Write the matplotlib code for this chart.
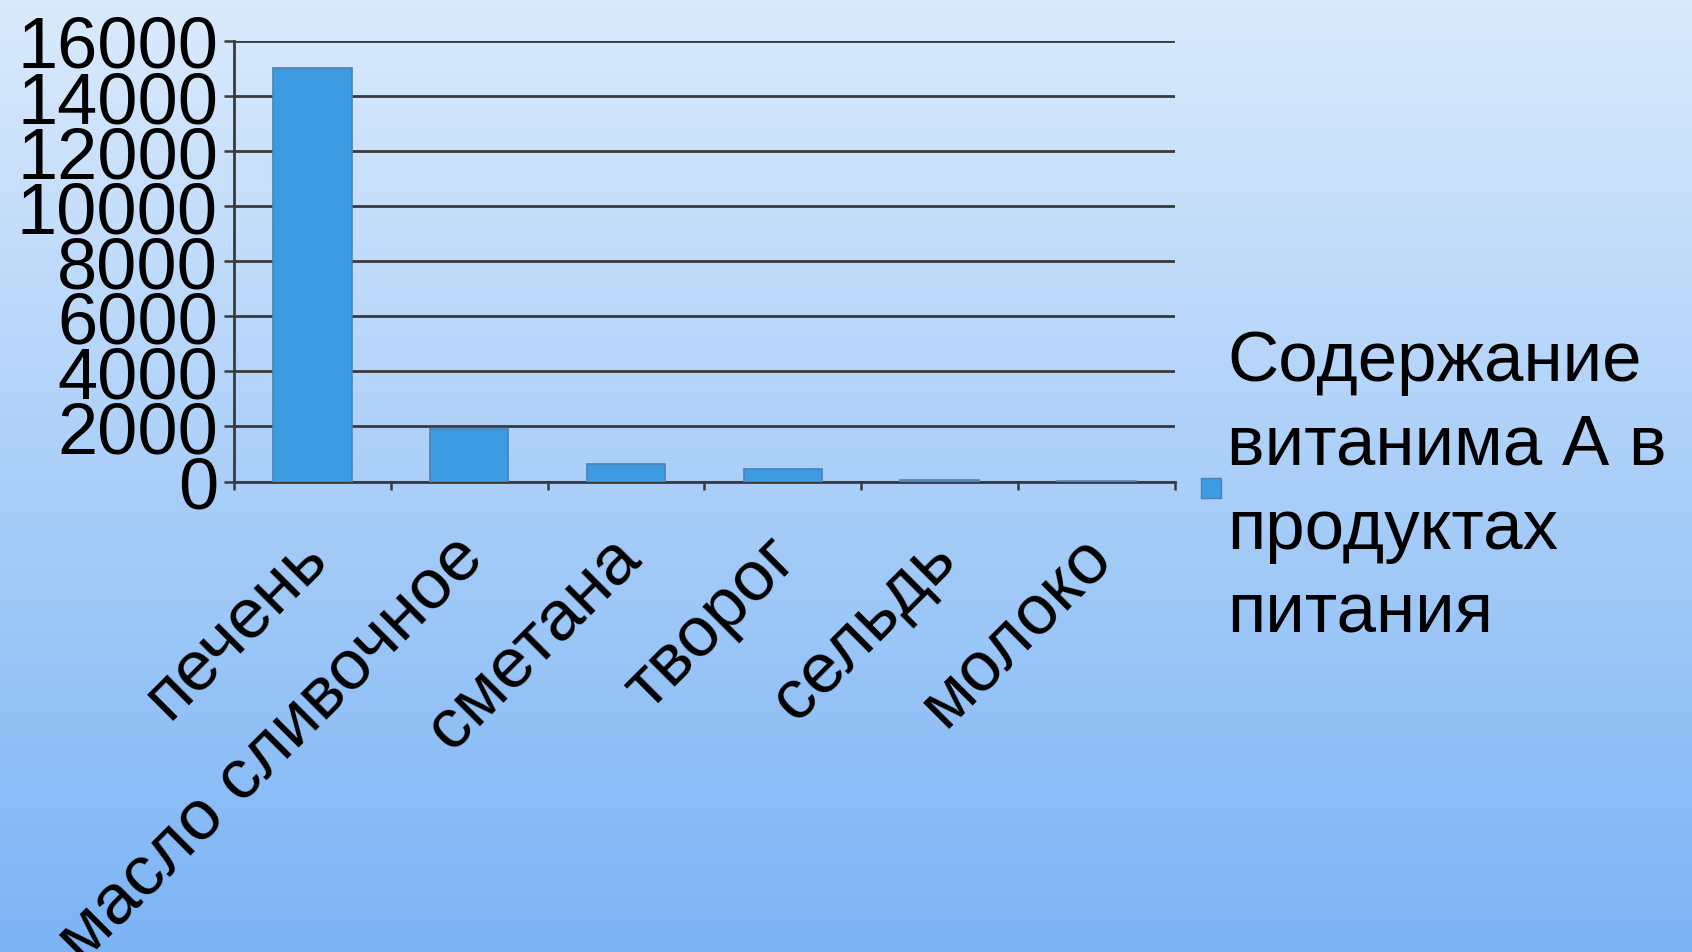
import numpy as np
import matplotlib
matplotlib.use('Agg')
import matplotlib.pyplot as plt
from matplotlib.lines import Line2D
from matplotlib.transforms import ScaledTranslation

# data
products = ["печень", "масло сливочное", "сметана", "творог", "сельдь", "молоко"]
vitamin_a = [15000, 1900, 650, 450, 60, 30]
y_ticks = [0, 2000, 4000, 6000, 8000, 10000, 12000, 14000, 16000]
series_name = "Содержание\nвитанима А в\nпродуктах\nпитания"

plt.rcParams['font.family'] = ['Liberation Sans', 'DejaVu Sans']

fig = plt.figure(figsize=(16.92, 9.53), dpi=100)

# background gradient, light blue on top -> deeper blue below
bg = fig.add_axes([0, 0, 1, 1], zorder=-10)
top = np.array([218, 234, 252]) / 255
bottom = np.array([124, 180, 245]) / 255
t = np.linspace(0, 1, 256)[:, None]
grad = top * (1 - t) + bottom * t
bg.imshow(grad[:, None, :], aspect='auto', extent=[0, 1, 0, 1])
bg.axis('off')

ax = fig.add_axes([0.1383, 0.4937, 0.5561, 0.4623])
ax.set_facecolor('none')

x = np.arange(len(products))
ax.bar(x, vitamin_a, width=0.5, color='#3d9be2', edgecolor='#4c82b4',
       linewidth=1.2, zorder=3)

ax.set_xlim(-0.5, len(products) - 0.5)
ax.set_ylim(0, 16000)
ax.set_yticks(y_ticks)
ax.set_yticklabels([str(v) for v in y_ticks], fontsize=52)
ax.yaxis.grid(True, color='#3a3a3a', linewidth=2, zorder=1)
ax.set_axisbelow(True)

ax.set_xticks(x)
ax.set_xticklabels(products, fontsize=51, rotation=45,
                   rotation_mode='anchor', ha='right', va='center')
ax.set_xticks(np.arange(len(products) + 1) - 0.5, minor=True)
ax.tick_params(axis='x', which='major', length=0, pad=47)
ax.tick_params(axis='x', which='minor', length=6, width=1.8, color='#3a3a3a',
               direction='out')
ax.tick_params(axis='y', length=7, width=1.8, color='#3a3a3a', pad=4.5)

# nudge the slanted labels a little to the right
shift = ScaledTranslation(0.05, 0, fig.dpi_scale_trans)
for lbl in ax.get_xticklabels():
    lbl.set_transform(lbl.get_transform() + shift)

for s in ['top', 'right']:
    ax.spines[s].set_visible(False)
for s in ['left', 'bottom']:
    ax.spines[s].set_color('#3a3a3a')
    ax.spines[s].set_linewidth(2)

handle = Line2D([], [], linestyle='none', marker='s', markersize=14,
                markerfacecolor='#3d9be2', markeredgecolor='#4c82b4')
leg = ax.legend([handle], [series_name], loc='center left',
                bbox_to_anchor=(0.997, -0.014), frameon=False, fontsize=51,
                handlelength=0.3, handletextpad=0.08, borderaxespad=0)
for txt in leg.get_texts():
    txt.set_linespacing(1.35)

fig.savefig('out.png', dpi=100)
